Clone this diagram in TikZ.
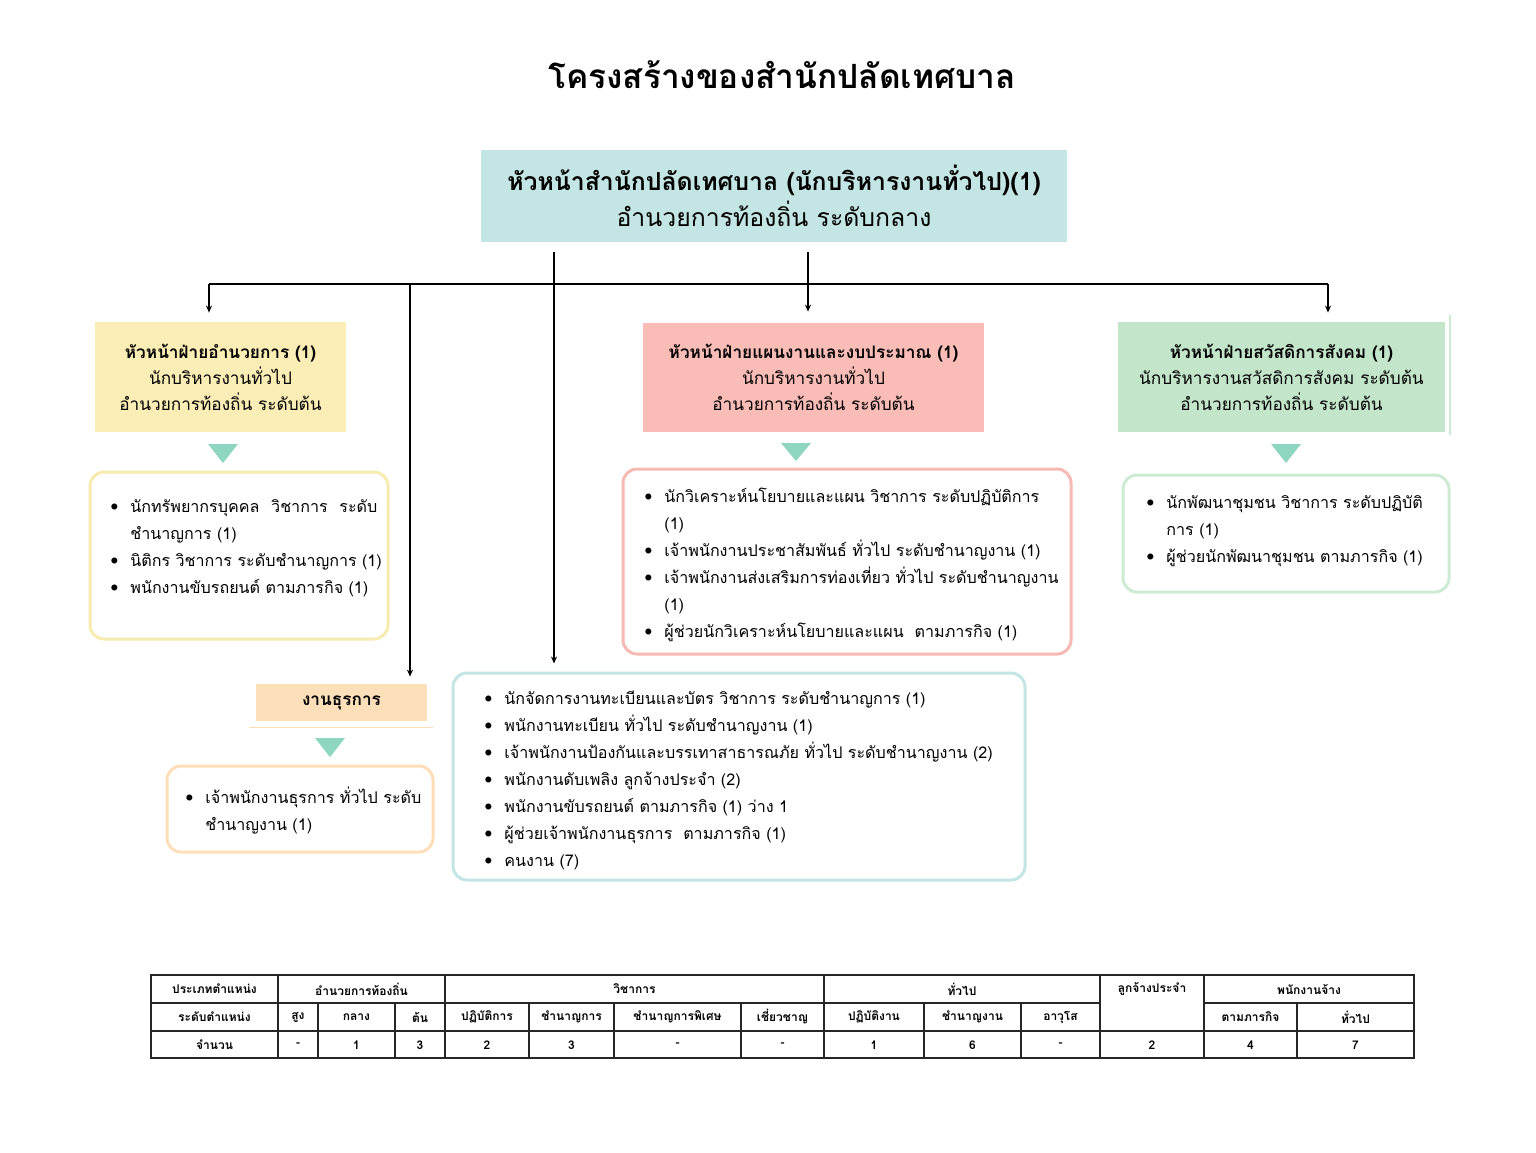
\documentclass[tikz,border=0pt]{standalone}
\usepackage{fontspec}
\setmainfont[Script=Thai]{Loma}
\usetikzlibrary{arrows.meta}
\definecolor{topfill}{HTML}{C3E5E3}
\definecolor{yfill}{HTML}{FAEDB5}
\definecolor{pfill}{HTML}{F9BCB6}
\definecolor{gfill}{HTML}{C3E5C9}
\definecolor{ofill}{HTML}{FDDFBA}
\definecolor{trifill}{HTML}{8ED6BF}
\definecolor{yline}{HTML}{F8EBB0}
\definecolor{pline}{HTML}{F6B9B3}
\definecolor{gline}{HTML}{CDEBD3}
\definecolor{oline}{HTML}{FDDEB8}
\definecolor{bline}{HTML}{C3E5E3}
\newcommand{\BL}{\makebox[10pt][l]{\raisebox{0.2ex}{\scriptsize$\bullet$}}}
\newcommand{\NB}{\hspace*{10pt}}
\begin{document}
\begin{tikzpicture}[x=0.5pt,y=-0.5pt,
  headbox/.style={inner sep=0pt, align=center, font=\fontsize{8.6}{13}\selectfont},
  listbox/.style={draw, line width=1.5pt, rounded corners=7pt, inner sep=0pt},
  listtext/.style={inner sep=0pt, anchor=base west, font=\fontsize{8.05}{13.5}\selectfont},
  conn/.style={line width=0.75pt, black},
  arr/.style={conn, -{Stealth[length=3.5pt,width=3pt]}},
  tri/.style={fill=trifill},
  tcell/.style={inner sep=0pt, font=\fontsize{6}{7}\selectfont\bfseries},
  tline/.style={line width=0.6pt, black!85}
]
\useasboundingbox[fill=white] (0,0) rectangle (1536,1152);

% title
\node[font=\fontsize{16.7}{20}\selectfont\bfseries] (title) at (782,75) {โครงสร้างของสำนักปลัดเทศบาล};

% top box
\node[headbox, fill=topfill, minimum width=293pt, minimum height=46pt, font=\fontsize{12.4}{18}\selectfont] (top) at (774,196)
  {{\bfseries หัวหน้าสำนักปลัดเทศบาล (นักบริหารงานทั่วไป)(1)}\\อำนวยการท้องถิ่น ระดับกลาง};

% head boxes
\node[headbox, fill=yfill, minimum width=125.5pt, minimum height=55pt] (yhead) at (220.5,377)
  {{\bfseries หัวหน้าฝ่ายอำนวยการ (1)}\\นักบริหารงานทั่วไป\\อำนวยการท้องถิ่น ระดับต้น};
\node[headbox, fill=pfill, minimum width=170.5pt, minimum height=54.5pt] (phead) at (813.5,377.5)
  {{\bfseries หัวหน้าฝ่ายแผนงานและงบประมาณ (1)}\\นักบริหารงานทั่วไป\\อำนวยการท้องถิ่น ระดับต้น};
\node[headbox, fill=gfill, minimum width=163.5pt, minimum height=55pt] (ghead) at (1281.5,377)
  {{\bfseries หัวหน้าฝ่ายสวัสดิการสังคม (1)}\\นักบริหารงานสวัสดิการสังคม ระดับต้น\\อำนวยการท้องถิ่น ระดับต้น};
\node[headbox, fill=ofill, minimum width=85.5pt, minimum height=18.5pt] (thead) at (341.5,702.5)
  {\bfseries งานธุรการ};
\draw[oline, line width=0.5pt] (249,727) -- (433,727);
\draw[gline, line width=0.6pt] (1450,315) -- (1450,435);

% triangles
\fill[tri] (208,444) -- (238,444) -- (223,463) -- cycle;
\fill[tri] (781,443) -- (811,443) -- (796,461) -- cycle;
\fill[tri] (1271,444) -- (1301,444) -- (1286,463) -- cycle;
\fill[tri] (315,738) -- (345,738) -- (330,757) -- cycle;

% list boxes
\node[listbox, draw=yline, minimum width=149pt, minimum height=83.5pt] (ylist) at (239,555.5) {};
\node[listbox, draw=pline, minimum width=224pt, minimum height=92.5pt] (plist) at (847,561.5) {};
\node[listbox, draw=gline, minimum width=163pt, minimum height=58.5pt] (glist) at (1286,533.5) {};
\node[listbox, draw=oline, minimum width=133pt, minimum height=43pt] (olist) at (300,809) {};
\node[listbox, draw=bline, minimum width=286pt, minimum height=103.5pt] (blist) at (739,776.5) {};

% list texts
\node[listtext] (ytext) at (110,512) {\begin{tabular}[t]{@{}l@{}}
\BL\makebox[123.5pt][s]{นักทรัพยากรบุคคล วิชาการ ระดับ}\\
\NB ชำนาญการ (1)\\
\BL นิติกร วิชาการ ระดับชำนาญการ (1)\\
\BL พนักงานขับรถยนต์ ตามภารกิจ (1)
\end{tabular}};
\node[listtext] (ptext) at (644,502) {\begin{tabular}[t]{@{}l@{}}
\BL นักวิเคราะห์นโยบายและแผน วิชาการ ระดับปฏิบัติการ\\
\NB (1)\\
\BL เจ้าพนักงานประชาสัมพันธ์ ทั่วไป ระดับชำนาญงาน (1)\\
\BL เจ้าพนักงานส่งเสริมการท่องเที่ยว ทั่วไป ระดับชำนาญงาน\\
\NB (1)\\
\BL ผู้ช่วยนักวิเคราะห์นโยบายและแผน\ \ ตามภารกิจ (1)
\end{tabular}};
\node[listtext] (gtext) at (1146,508) {\begin{tabular}[t]{@{}l@{}}
\BL นักพัฒนาชุมชน วิชาการ ระดับปฏิบัติ\\
\NB การ (1)\\
\BL ผู้ช่วยนักพัฒนาชุมชน ตามภารกิจ (1)
\end{tabular}};
\node[listtext] (otext) at (185,803) {\begin{tabular}[t]{@{}l@{}}
\BL เจ้าพนักงานธุรการ ทั่วไป ระดับ\\
\NB ชำนาญงาน (1)
\end{tabular}};
\node[listtext] (btext) at (484,704) {\begin{tabular}[t]{@{}l@{}}
\BL นักจัดการงานทะเบียนและบัตร วิชาการ ระดับชำนาญการ (1)\\
\BL พนักงานทะเบียน ทั่วไป ระดับชำนาญงาน (1)\\
\BL เจ้าพนักงานป้องกันและบรรเทาสาธารณภัย ทั่วไป ระดับชำนาญงาน (2)\\
\BL พนักงานดับเพลิง ลูกจ้างประจำ (2)\\
\BL พนักงานขับรถยนต์ ตามภารกิจ (1) ว่าง 1\\
\BL ผู้ช่วยเจ้าพนักงานธุรการ\ \ ตามภารกิจ (1)\\
\BL คนงาน (7)
\end{tabular}};

% connectors
\coordinate (d1) at (554,252);
\coordinate (d2) at (808,252);
\coordinate (busL) at (209,284);
\coordinate (busR) at (1328,284);
\coordinate (busM) at (410,284);
\draw[conn] (busL) -- (busR);
\draw[arr, shorten >=4pt] (d1) -- (d1 |- blist.north);
\draw[arr, shorten >=5.5pt] (d2) -- (d2 |- phead.north);
\draw[arr, shorten >=4.5pt] (busL) -- (busL |- yhead.north);
\draw[arr, shorten >=4.5pt] (busR) -- (busR |- ghead.north);
\draw[arr, shorten >=3.5pt] (busM) -- (busM |- thead.north);

% table
\draw[tline] (151,975) rectangle (1414,1058);
\draw[tline] (151,1003) -- (1100,1003);
\draw[tline] (1204,1003) -- (1414,1003);
\draw[tline] (151,1031) -- (1414,1031);
\foreach \x in {278,445,824,1100,1204} \draw[tline] (\x,975) -- (\x,1058);
\foreach \x in {318,395,529,614,741,924,1021,1297} \draw[tline] (\x,1003) -- (\x,1058);
\foreach \x/\t [count=\i] in {214.5/ประเภทตำแหน่ง, 361.5/อำนวยการท้องถิ่น, 634.5/วิชาการ, 962/ทั่วไป, 1152/ลูกจ้างประจำ, 1309/พนักงานจ้าง}
  \node[tcell] (ta\i) at (\x,989) {\t};
\foreach \x/\t [count=\i] in {214.5/ระดับตำแหน่ง, 298/สูง, 356.5/กลาง, 420/ต้น, 487/ปฏิบัติการ, 571.5/ชำนาญการ, 677.5/ชำนาญการพิเศษ, 782.5/เชี่ยวชาญ, 874/ปฏิบัติงาน, 972.5/ชำนาญงาน, 1060.5/อาวุโส, 1250.5/ตามภารกิจ, 1355.5/ทั่วไป}
  \node[tcell] (tb\i) at (\x,1017) {\t};
\foreach \x/\t [count=\i] in {214.5/จำนวน, 298/-, 356.5/1, 420/3, 487/2, 571.5/3, 677.5/-, 782.5/-, 874/1, 972.5/6, 1060.5/-, 1152/2, 1250.5/4, 1355.5/7}
  \node[tcell] (tc\i) at (\x,1045) {\t};
\end{tikzpicture}
\end{document}
